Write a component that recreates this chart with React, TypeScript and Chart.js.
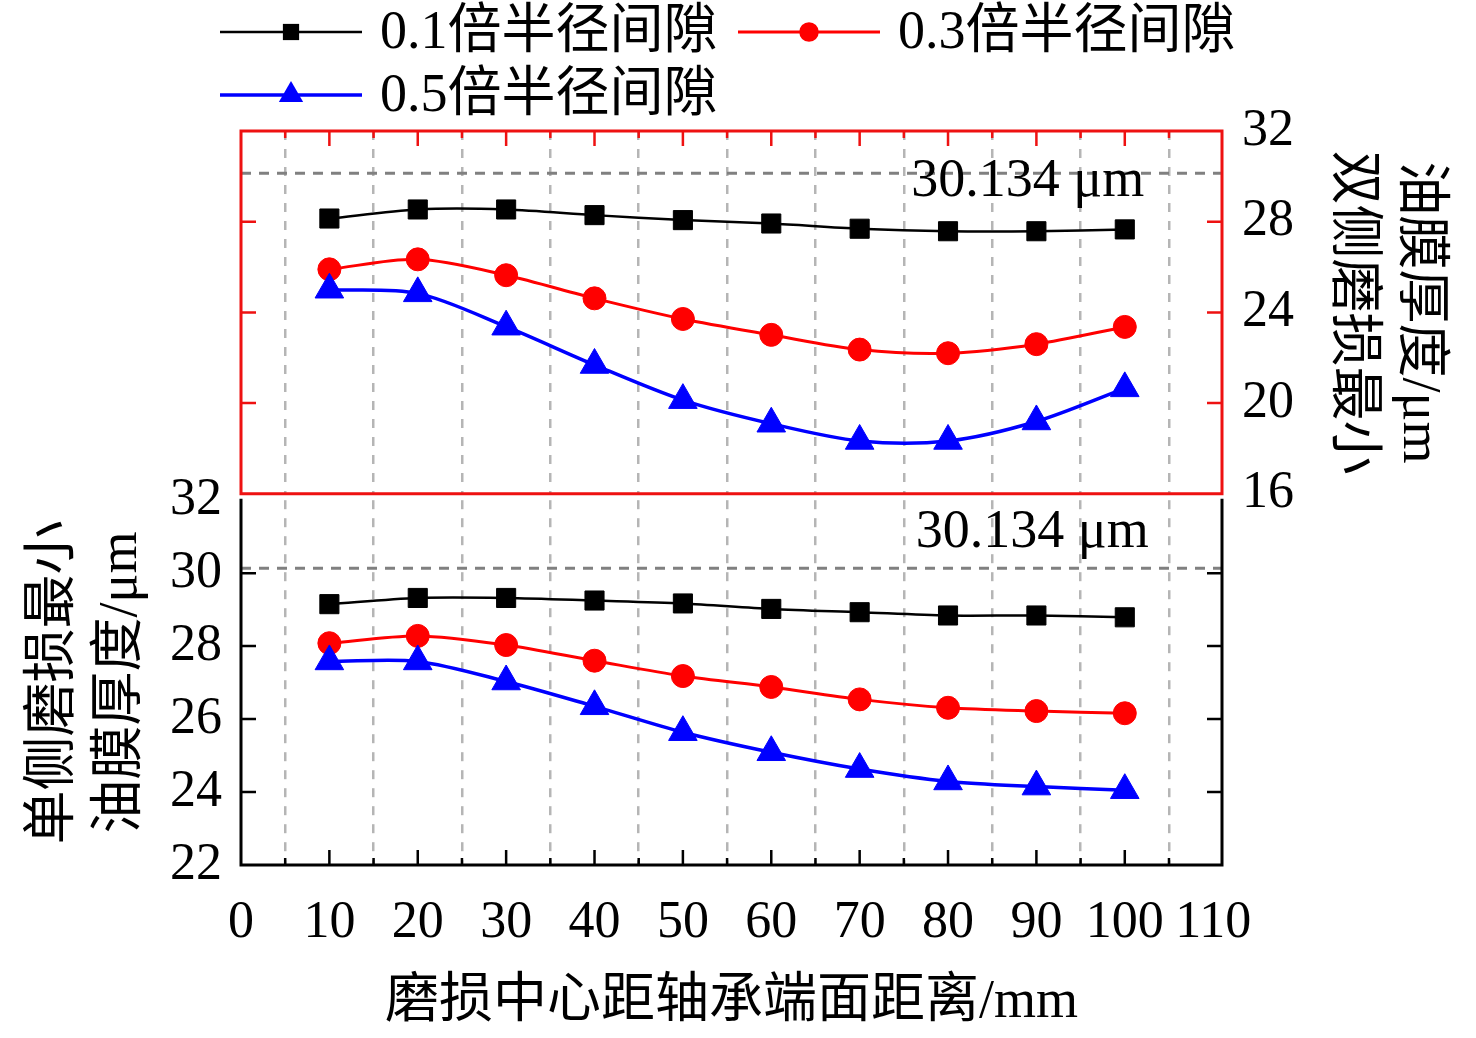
import { useEffect, useRef } from "react";
import { Chart, registerables } from "chart.js";

Chart.register(...registerables);

const FONT = '"Liberation Serif", "Noto Sans CJK SC", serif';
Chart.defaults.font.family = FONT;
Chart.defaults.color = "#000";

// wear centre distance from bearing end face (mm)
const positions = [10, 20, 30, 40, 50, 60, 70, 80, 90, 100];
const seriesLabels = ["0.1倍半径间隙", "0.3倍半径间隙", "0.5倍半径间隙"];

// single-side wear, minimum film thickness (um) - lower panel
const single01 = [29.15, 29.32, 29.32, 29.25, 29.17, 29.02, 28.93, 28.84, 28.84, 28.79];
const single03 = [28.08, 28.28, 28.03, 27.6, 27.18, 26.88, 26.54, 26.31, 26.22, 26.16];
const single05 = [27.58, 27.58, 27.03, 26.35, 25.64, 25.09, 24.63, 24.29, 24.15, 24.05];

// double-side wear, minimum film thickness (um) - upper panel
const double01 = [28.14, 28.54, 28.54, 28.29, 28.07, 27.92, 27.69, 27.58, 27.58, 27.66];
const double03 = [25.9, 26.34, 25.64, 24.62, 23.71, 23.01, 22.36, 22.2, 22.6, 23.36];
const double05 = [25.0, 24.84, 23.37, 21.68, 20.13, 19.09, 18.33, 18.33, 19.19, 20.65];

// reference thickness without wear
const refThickness = 30.134;
const refLabel = "30.134 μm";

const xMin = 0;
const xMax = 111;
const xMajor = [0, 10, 20, 30, 40, 50, 60, 70, 80, 90, 100, 110];
const xMinor = [5, 15, 25, 35, 45, 55, 65, 75, 85, 95, 105];
const bottomTicks = [22, 24, 26, 28, 30, 32];
const topTicks = [16, 20, 24, 28, 32];

const colors = ["#000000", "#ff0000", "#0000ff"];
const lineWidths = [2.5, 3, 3.5];
const markers = ["rect", "circle", "triangle"];
const markerRadii = [13.5, 11.5, 16.5];

const TICK_FONT = { size: 52 };
const TITLE_FONT = { size: 54, lineHeight: 1.25 };
const GRID_COLOR = "#b5b5b5";

function makeSeries(values: number[][]) {
  return seriesLabels.map((label, i) => ({
    label,
    data: positions.map((x, j) => ({ x, y: values[i][j] })),
    borderColor: colors[i],
    backgroundColor: colors[i],
    borderWidth: lineWidths[i],
    pointStyle: markers[i],
    pointRadius: markerRadii[i],
    pointBackgroundColor: colors[i],
    pointBorderColor: colors[i],
    pointBorderWidth: 1,
    tension: 0.3,
    order: 2 - i,
  }));
}

function refSeries() {
  return {
    label: "ref",
    data: [
      { x: xMin, y: refThickness },
      { x: xMax, y: refThickness },
    ],
    borderColor: "#808080",
    borderWidth: 3,
    borderDash: [10, 8],
    pointRadius: 0,
    tension: 0,
    order: 5,
  };
}

function xScale(showLabels: boolean, height: number) {
  return {
    type: "linear",
    min: xMin,
    max: xMax,
    afterBuildTicks: (s: any) => {
      s.ticks = [...xMajor, ...xMinor].sort((a, b) => a - b).map((v) => ({ value: v }));
    },
    ticks: {
      display: showLabels,
      autoSkip: false,
      maxRotation: 0,
      font: TICK_FONT,
      padding: 27,
      callback: (v: number) => (xMajor.includes(v) ? String(v) : ""),
    },
    grid: {
      drawTicks: false,
      lineWidth: 2.5,
      color: (c: any) => (c.tick && xMinor.includes(c.tick.value) ? GRID_COLOR : "rgba(0,0,0,0)"),
    },
    border: { display: false, dash: [9, 9] },
    title: showLabels
      ? { display: true, text: "磨损中心距轴承端面距离/mm", font: TITLE_FONT, padding: { top: 0, bottom: 1 } }
      : { display: false },
    afterFit: (s: any) => {
      s.height = height;
    },
  };
}

function drawMarker(ctx: CanvasRenderingContext2D, style: string, x: number, y: number, r: number) {
  ctx.beginPath();
  if (style === "rect") {
    const s = r * Math.SQRT1_2;
    ctx.rect(x - s, y - s, 2 * s, 2 * s);
  } else if (style === "circle") {
    ctx.arc(x, y, r, 0, Math.PI * 2);
  } else {
    ctx.moveTo(x, y - r);
    ctx.lineTo(x + r * 0.866, y + r * 0.5);
    ctx.lineTo(x - r * 0.866, y + r * 0.5);
    ctx.closePath();
  }
  ctx.fill();
}

const legendSlots = [
  { x: 220, y: 32 },
  { x: 738, y: 32 },
  { x: 220, y: 95 },
];

const legendPlugin = {
  id: "lineLegend",
  afterDraw(chart: any) {
    const ctx: CanvasRenderingContext2D = chart.ctx;
    seriesLabels.forEach((label, i) => {
      const ds = chart.data.datasets.find((d: any) => d.label === label);
      const { x, y } = legendSlots[i];
      ctx.save();
      ctx.strokeStyle = ds.borderColor;
      ctx.lineWidth = ds.borderWidth;
      ctx.beginPath();
      ctx.moveTo(x, y);
      ctx.lineTo(x + 142, y);
      ctx.stroke();
      ctx.fillStyle = ds.borderColor;
      drawMarker(ctx, ds.pointStyle, x + 71, y, ds.pointRadius * 0.85);
      ctx.fillStyle = "#000";
      ctx.font = `54px ${FONT}`;
      ctx.textAlign = "left";
      ctx.textBaseline = "middle";
      ctx.fillText(label, x + 160, y + 2);
      ctx.restore();
    });
  },
};

function framePlugin(id: string, color: string, edges: string[], tickEdge: "top" | "bottom", yTicks: number[]) {
  return {
    id,
    afterDraw(chart: any) {
      const ctx: CanvasRenderingContext2D = chart.ctx;
      const a = chart.chartArea;
      const xs = chart.scales.x;
      const ys = chart.scales.y;
      ctx.save();
      ctx.strokeStyle = color;
      ctx.lineWidth = 3;
      ctx.lineCap = "square";
      ctx.beginPath();
      if (edges.includes("top")) { ctx.moveTo(a.left, a.top); ctx.lineTo(a.right, a.top); }
      if (edges.includes("bottom")) { ctx.moveTo(a.left, a.bottom); ctx.lineTo(a.right, a.bottom); }
      if (edges.includes("left")) { ctx.moveTo(a.left, a.top); ctx.lineTo(a.left, a.bottom); }
      if (edges.includes("right")) { ctx.moveTo(a.right, a.top); ctx.lineTo(a.right, a.bottom); }
      ctx.stroke();
      ctx.lineCap = "butt";
      ctx.lineWidth = 2.5;
      ctx.beginPath();
      const ey = tickEdge === "top" ? a.top : a.bottom;
      const dir = tickEdge === "top" ? 1 : -1;
      xMajor.filter((v) => v > xMin && v < 110).forEach((v) => {
        const px = xs.getPixelForValue(v);
        ctx.moveTo(px, ey);
        ctx.lineTo(px, ey + dir * 15);
      });
      xMinor.forEach((v) => {
        const px = xs.getPixelForValue(v);
        ctx.moveTo(px, ey);
        ctx.lineTo(px, ey + dir * 7);
      });
      yTicks.forEach((v) => {
        const py = ys.getPixelForValue(v);
        ctx.moveTo(a.left, py);
        ctx.lineTo(a.left + 15, py);
        ctx.moveTo(a.right, py);
        ctx.lineTo(a.right - 15, py);
      });
      ctx.stroke();
      ctx.restore();
    },
  };
}

function refLabelPlugin(id: string, atX: number, dy: number) {
  return {
    id,
    afterDraw(chart: any) {
      const ctx: CanvasRenderingContext2D = chart.ctx;
      const x = chart.scales.x.getPixelForValue(atX);
      const y = chart.scales.y.getPixelForValue(refThickness) + dy;
      ctx.save();
      ctx.fillStyle = "#000";
      ctx.font = `54px ${FONT}`;
      ctx.textAlign = "right";
      ctx.textBaseline = "middle";
      ctx.fillText(refLabel, x, y);
      ctx.restore();
    },
  };
}

export default function App() {
  const topRef = useRef<HTMLCanvasElement>(null);
  const bottomRef = useRef<HTMLCanvasElement>(null);

  useEffect(() => {
    if (!topRef.current || !bottomRef.current) return;

    const topChart = new Chart(topRef.current, {
      type: "line",
      data: { datasets: [...makeSeries([double01, double03, double05]), refSeries()] as any },
      options: {
        animation: false,
        responsive: false,
        layout: { padding: { left: 241, right: 0, top: 131, bottom: 48 } },
        plugins: { legend: { display: false }, tooltip: { enabled: false } },
        scales: {
          x: xScale(false, 0) as any,
          y: {
            position: "right",
            min: 16,
            max: 32,
            afterBuildTicks: (s: any) => {
              s.ticks = topTicks.map((v) => ({ value: v }));
            },
            ticks: { font: TICK_FONT, padding: 20 },
            grid: { display: false, drawTicks: false },
            border: { display: false },
            title: {
              display: true,
              text: ["油膜厚度/μm", "双侧磨损最小"],
              font: TITLE_FONT,
              padding: { top: 24, bottom: 0 },
            },
            afterFit: (s: any) => {
              s.width = 254;
            },
          } as any,
        },
      },
      plugins: [
        framePlugin("topFrame", "#ee1111", ["top", "bottom", "left", "right"], "top", [20, 24, 28]),
        refLabelPlugin("topRef", 102.2, 9),
        legendPlugin,
      ],
    });

    const bottomChart = new Chart(bottomRef.current, {
      type: "line",
      data: { datasets: [...makeSeries([single01, single03, single05]), refSeries()] as any },
      options: {
        animation: false,
        responsive: false,
        layout: { padding: { left: 0, right: 254, top: 47, bottom: 0 } },
        plugins: { legend: { display: false }, tooltip: { enabled: false } },
        scales: {
          x: xScale(true, 173) as any,
          y: {
            position: "left",
            min: 22,
            max: 32,
            afterBuildTicks: (s: any) => {
              s.ticks = bottomTicks.map((v) => ({ value: v }));
            },
            ticks: { font: TICK_FONT, padding: 19 },
            grid: { display: false, drawTicks: false },
            border: { display: false },
            title: {
              display: true,
              text: ["单侧磨损最小", "油膜厚度/μm"],
              font: TITLE_FONT,
              padding: { top: 21, bottom: 0 },
            },
            afterFit: (s: any) => {
              s.width = 241;
            },
          } as any,
        },
      },
      plugins: [
        framePlugin("bottomFrame", "#000000", ["bottom", "left", "right"], "bottom", [24, 26, 28, 30]),
        refLabelPlugin("bottomRef", 102.7, -35),
      ],
    });

    return () => {
      topChart.destroy();
      bottomChart.destroy();
    };
  }, []);

  return (
    <div style={{ position: "absolute", left: 0, top: 0, width: 1476, height: 1038, background: "#fff" }}>
      <canvas ref={topRef} width={1476} height={545} style={{ position: "absolute", left: 0, top: 0 }} />
      <canvas ref={bottomRef} width={1476} height={588} style={{ position: "absolute", left: 0, top: 450 }} />
    </div>
  );
}
